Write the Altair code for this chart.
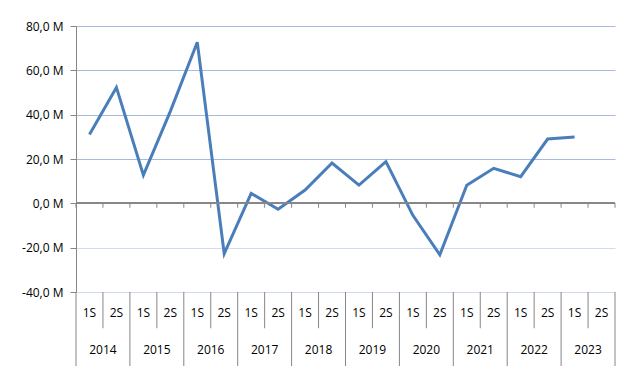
import altair as alt
import pandas as pd

years = ["2014", "2015", "2016", "2017", "2018", "2019", "2020", "2021", "2022", "2023"]
semesters = ["1S", "2S"]
values = [31.0, 52.3, 12.7, 41.5, 72.7, -22.7, 4.5, -2.7, 6.0, 18.2,
          8.2, 18.8, -5.4, -23.2, 8.2, 15.8, 12.0, 29.0, 29.9, None]
y_ticks = [-40, -20, 0, 20, 40, 60, 80]

periods = [f"{y} {s}" for y in years for s in semesters]
df = pd.DataFrame({
    "period": periods,
    "year": [y for y in years for s in semesters],
    "sem": [s for y in years for s in semesters],
    "value": values,
})

FONT = "Open Sans"
FS = 12
GRAY = "#868686"
LINE = "#4A7EBB"
W, H_TOP, H_BOT = 539, 266, 74

xscale = alt.Scale(type="band", domain=periods, paddingInner=0, paddingOuter=0)
yscale = alt.Scale(domain=[-40, 80], nice=False, zero=False)

yaxis = alt.Axis(
    values=y_ticks,
    labelExpr="(datum.value < 0 ? '-' : '') + replace(format(abs(datum.value), '.1f'), '.', ',') + ' M'",
    title=None,
    domainColor=GRAY,
    tickColor=GRAY,
    tickSize=6,
    labelPadding=7,
    labelFont=FONT,
    labelFontSize=FS,
    labelColor="#000000",
    gridColor=alt.condition("datum.value >= 20", alt.value("#A6BADF"), alt.value("#D0DCF1")),
)

line = alt.Chart(df).mark_line(color=LINE, strokeWidth=3).encode(
    x=alt.X("period:N", scale=xscale, axis=None, sort=periods),
    y=alt.Y("value:Q", scale=yscale, axis=yaxis),
)

zero_rule = alt.Chart(df).mark_rule(color=GRAY, strokeWidth=1).encode(
    y=alt.datum(0),
)

zero_ticks = alt.Chart(df).mark_rule(color=GRAY, strokeWidth=1).encode(
    x=alt.X("period:N", scale=xscale, axis=None, bandPosition=0),
    y=alt.datum(0),
    y2=alt.datum(-2),
)
zero_end = alt.Chart(df.tail(1)).mark_rule(color=GRAY, strokeWidth=1).encode(
    x=alt.X("period:N", scale=xscale, axis=None, bandPosition=1),
    y=alt.datum(0),
    y2=alt.datum(-2),
)

top = alt.layer(line, zero_rule, zero_ticks, zero_end).properties(width=W, height=H_TOP)

ybot = alt.Scale(domain=[0, 2], nice=False, zero=False)

sem_text = alt.Chart(df).mark_text(font=FONT, fontSize=FS, color="#000000", baseline="middle").encode(
    x=alt.X("period:N", scale=xscale, axis=None),
    y=alt.YDatum(1.42, scale=ybot, axis=None),
    text="sem:N",
)
year_text = alt.Chart(df[df["sem"] == "2S"]).mark_text(font=FONT, fontSize=FS, color="#000000", baseline="middle").encode(
    x=alt.X("period:N", scale=xscale, axis=None, bandPosition=0),
    y=alt.datum(0.43),
    text="year:N",
)
short_sep = alt.Chart(df[df["sem"] == "2S"]).mark_rule(color=GRAY, strokeWidth=1).encode(
    x=alt.X("period:N", scale=xscale, axis=None, bandPosition=0),
    y=alt.datum(2),
    y2=alt.datum(1.02),
)
long_sep = alt.Chart(df[df["sem"] == "1S"]).mark_rule(color=GRAY, strokeWidth=1).encode(
    x=alt.X("period:N", scale=xscale, axis=None, bandPosition=0),
    y=alt.datum(2),
    y2=alt.datum(0),
)
long_end = alt.Chart(df.tail(1)).mark_rule(color=GRAY, strokeWidth=1).encode(
    x=alt.X("period:N", scale=xscale, axis=None, bandPosition=1),
    y=alt.datum(2),
    y2=alt.datum(0),
)

bottom = alt.layer(sem_text, short_sep, long_sep, long_end, year_text).properties(width=W, height=H_BOT)

chart = alt.vconcat(top, bottom, spacing=0, bounds="flush").resolve_scale(
    x="independent", y="independent"
).properties(
    padding={"left": 13, "top": 12, "right": 5, "bottom": 5}
).configure_view(stroke=None)

chart.save("out.html", embed_options={"renderer": "svg", "actions": False})
